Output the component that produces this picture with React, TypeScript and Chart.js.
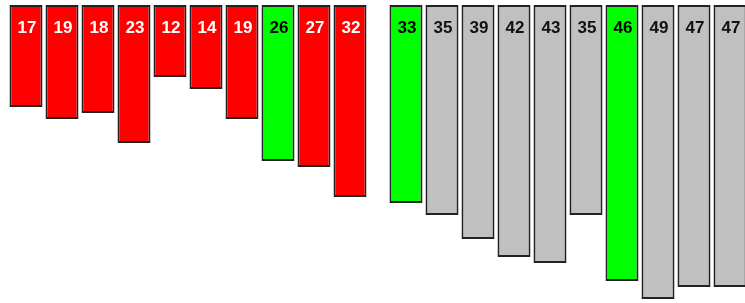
import React, { useEffect, useRef } from "react";
import { Chart, registerables } from "chart.js";

Chart.register(...registerables);

const labelsA = ["1", "2", "3", "4", "5", "6", "7", "8", "9", "10"];
const valuesA = [17, 19, 18, 23, 12, 14, 19, 26, 27, 32];
const highlightA = [7];

const labelsB = ["11", "12", "13", "14", "15", "16", "17", "18", "19", "20"];
const valuesB = [33, 35, 39, 42, 43, 35, 46, 49, 47, 47];
const highlightB = [0, 6];

const GREEN = "#00FF00";

const valueLabelPlugin = {
  id: "valueLabels",
  afterDatasetsDraw(chart: any) {
    const ctx = chart.ctx;
    const textColors: string[] = chart.options.plugins.valueLabels.colors;
    chart.data.datasets.forEach((ds: any, di: number) => {
      const meta = chart.getDatasetMeta(di);
      meta.data.forEach((bar: any, i: number) => {
        const props = bar.getProps(["x", "base"], true);
        ctx.save();
        ctx.font = "bold 17px 'Liberation Sans', Arial, sans-serif";
        ctx.fillStyle = textColors[i];
        ctx.textAlign = "center";
        ctx.textBaseline = "middle";
        ctx.fillText(String(ds.data[i]), props.x + 1, props.base + 23);
        ctx.restore();
      });
    });
  },
};

function BarPanel({
  labels,
  values,
  highlight,
  base,
}: {
  labels: string[];
  values: number[];
  highlight: number[];
  base: string;
}) {
  const ref = useRef<HTMLCanvasElement | null>(null);
  useEffect(() => {
    if (!ref.current) return;
    const fills = values.map((_, i) => (highlight.includes(i) ? GREEN : base));
    const textColors = values.map((_, i) =>
      highlight.includes(i) ? "#000000" : base === "#FF0000" ? "#FFFFFF" : "#111111"
    );
    const chart = new Chart(ref.current, {
      type: "bar",
      data: {
        labels,
        datasets: [
          {
            data: values,
            backgroundColor: fills,
            borderColor: "#222222",
            borderWidth: 2,
            borderSkipped: false,
            barPercentage: 1,
            categoryPercentage: 33 / 36,
          },
        ],
      },
      options: {
        animation: false,
        responsive: false,
        maintainAspectRatio: false,
        layout: { padding: { top: 5, bottom: 0, left: 0, right: 0 } },
        scales: {
          x: { display: false, grid: { display: false } },
          y: {
            display: false,
            reverse: true,
            min: 0,
            max: 298 / 6,
            grid: { display: false },
          },
        },
        plugins: {
          legend: { display: false },
          tooltip: { enabled: false },
          valueLabels: { colors: textColors },
        } as any,
      },
      plugins: [valueLabelPlugin],
    });
    return () => chart.destroy();
  }, []);
  return <canvas ref={ref} width={360} height={303} style={{ display: "block", width: 360, height: 303 }} />;
}

export default function App() {
  return (
    <div
      style={{
        position: "fixed",
        left: 0,
        top: 0,
        width: 745,
        height: 303,
        overflow: "hidden",
        background: "#FFFFFF",
      }}
    >
      <div style={{ position: "absolute", left: 8, top: 0 }}>
        <BarPanel labels={labelsA} values={valuesA} highlight={highlightA} base="#FF0000" />
      </div>
      <div style={{ position: "absolute", left: 388, top: 0 }}>
        <BarPanel labels={labelsB} values={valuesB} highlight={highlightB} base="#C0C0C0" />
      </div>
    </div>
  );
}
